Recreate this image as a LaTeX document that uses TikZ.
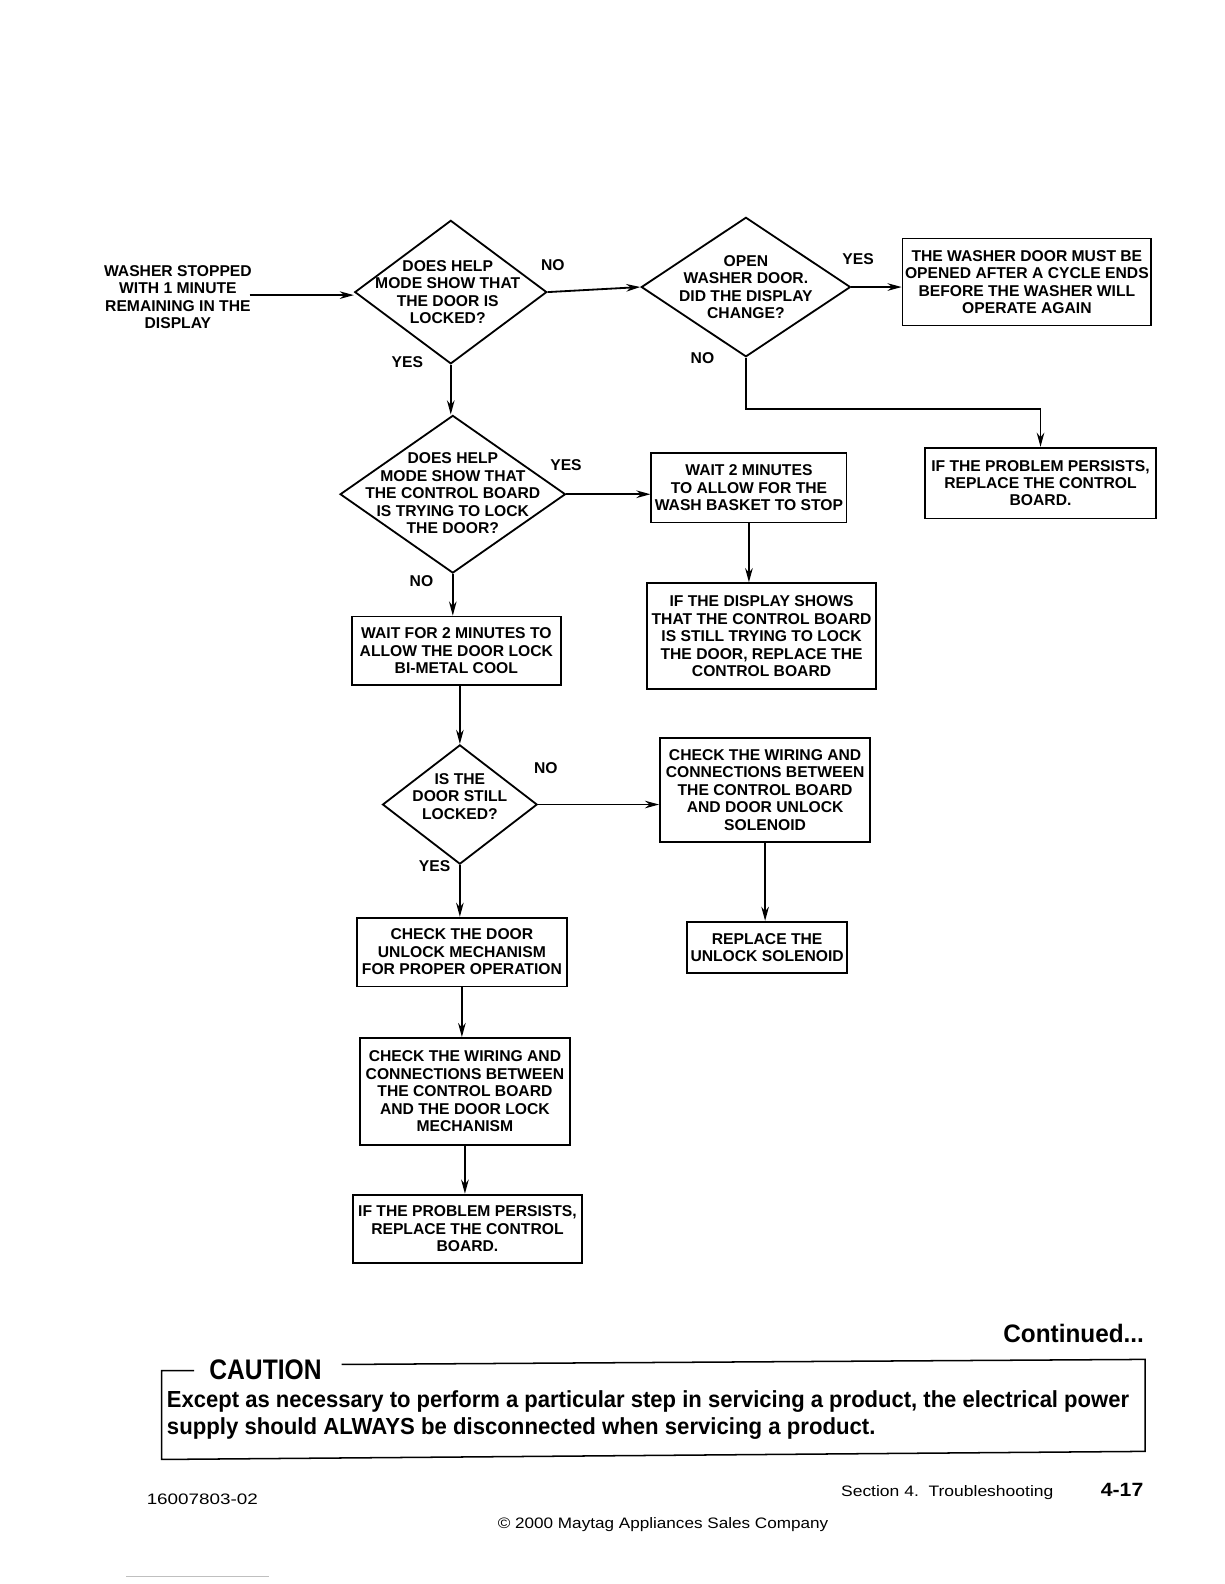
\documentclass[tikz,border=0pt]{standalone}
\usepackage{fontspec}
\setmainfont{Liberation Sans}
\usetikzlibrary{shapes.geometric,arrows.meta}
\begin{document}
\begin{tikzpicture}[x=1pt,y=-1pt,
  flow/.style={font=\bfseries\fontsize{15.5}{17.3}\selectfont, align=center, inner sep=0pt},
  box/.style={flow, draw, rectangle, line width=1.8pt},
  dia/.style={draw, diamond, line width=1.8pt, inner sep=0pt},
  arr/.style={line width=1.8pt, -{Stealth[length=14pt,width=7.5pt]}},
  lbl/.style={flow}]
\useasboundingbox (0,0) rectangle (1224,1584);
\fill[white] (0,0) rectangle (1224,1584);
\begin{scope}[transform canvas={scale=1.0107}]
% start text
\node[flow] (start) at (176,294) {WASHER STOPPED\\WITH 1 MINUTE\\REMAINING IN THE\\DISPLAY};
\coordinate (s1) at (247,292);

% diamonds
\node[dia, minimum width=190pt, minimum height=142pt] (d1) at (446,289) {};
\node[flow] (d1t) at (443,289) {DOES HELP\\MODE SHOW THAT\\THE DOOR IS\\LOCKED?};
\node[dia, minimum width=207pt, minimum height=138pt] (d2) at (738,284) {};
\node[flow] (d2t) at (738,284) {OPEN\\WASHER DOOR.\\DID THE DISPLAY\\CHANGE?};
\node[dia, minimum width=223pt, minimum height=156pt] (d3) at (448,489) {};
\node[flow] (d3t) at (448,488) {DOES HELP\\MODE SHOW THAT\\THE CONTROL BOARD\\IS TRYING TO LOCK\\THE DOOR?};
\node[dia, minimum width=153pt, minimum height=118pt] (d4) at (455,796) {};
\node[flow] (d4t) at (455,788) {IS THE\\DOOR STILL\\LOCKED?};

% boxes
\node[box, minimum width=246pt, minimum height=86pt] (tr1) at (1016,279) {THE WASHER DOOR MUST BE\\OPENED AFTER A CYCLE ENDS\\BEFORE THE WASHER WILL\\OPERATE AGAIN};
\node[box, minimum width=229pt, minimum height=70pt] (tr2) at (1029.5,478) {IF THE PROBLEM PERSISTS,\\REPLACE THE CONTROL\\BOARD.};
\node[box, minimum width=193pt, minimum height=69pt] (w2) at (741,482.5) {WAIT 2 MINUTES\\TO ALLOW FOR THE\\WASH BASKET TO STOP};
\node[box, minimum width=227pt, minimum height=105pt] (disp) at (753.5,629.5) {IF THE DISPLAY SHOWS\\THAT THE CONTROL BOARD\\IS STILL TRYING TO LOCK\\THE DOOR, REPLACE THE\\CONTROL BOARD};
\node[box, minimum width=207pt, minimum height=68pt] (wait) at (451.5,644) {WAIT FOR 2 MINUTES TO\\ALLOW THE DOOR LOCK\\BI-METAL COOL};
\node[box, minimum width=208pt, minimum height=103pt] (cw1) at (757,781.5) {CHECK THE WIRING AND\\CONNECTIONS BETWEEN\\THE CONTROL BOARD\\AND DOOR UNLOCK\\SOLENOID};
\node[box, minimum width=208pt, minimum height=68pt] (cdoor) at (457,942) {CHECK THE DOOR\\UNLOCK MECHANISM\\FOR PROPER OPERATION};
\node[box, minimum width=158pt, minimum height=51pt] (repl) at (759,937.5) {REPLACE THE\\UNLOCK SOLENOID};
\node[box, minimum width=208pt, minimum height=106pt] (cw2) at (460,1080) {CHECK THE WIRING AND\\CONNECTIONS BETWEEN\\THE CONTROL BOARD\\AND THE DOOR LOCK\\MECHANISM};
\node[box, minimum width=227pt, minimum height=68pt] (prob2) at (462.5,1216) {IF THE PROBLEM PERSISTS,\\REPLACE THE CONTROL\\BOARD.};

% labels
\node[lbl] (l1) at (547,262) {NO};
\node[lbl] (l2) at (849,256) {YES};
\node[lbl] (l3) at (695,354) {NO};
\node[lbl] (l4) at (403,358) {YES};
\node[lbl] (l5) at (560,460) {YES};
\node[lbl] (l6) at (417,575) {NO};
\node[lbl] (l7) at (540,760) {NO};
\node[lbl] (l8) at (430,857) {YES};

% connectors
\draw[arr] (s1) -- (s1 -| d1.west);
\draw[arr] (d1.east) -- (d2.west);
\draw[arr] (d2.east) -- (d2.east -| tr1.west);
\coordinate (bend) at (1029.5,405);
\draw[arr] (d2.south) |- (bend) -- (tr2.north);
\draw[arr] (d1.south) -- (d1.south |- d3.north);
\draw[arr] (d3.east) -- (d3.east -| w2.west);
\draw[arr] (w2.south) -- (w2.south |- disp.north);
\draw[arr] (d3.south) -- (d3.south |- wait.north);
\draw[arr] (d4.north |- wait.south) -- (d4.north);
\draw[arr] (d4.east) -- (d4.east -| cw1.west);
\draw[arr] (cw1.south) -- (cw1.south |- repl.north);
\draw[arr] (d4.south) -- (d4.south |- cdoor.north);
\draw[arr] (cdoor.south) -- (cdoor.south |- cw2.north);
\draw[arr] (cw2.south) -- (cw2.south |- prob2.north);

% continued and caution
\node[anchor=base east, inner sep=0pt] (cont) at (1132,1328) {\resizebox{139pt}{\height}{\bfseries\fontsize{25}{28}\selectfont Continued...}};
\node[anchor=base west, inner sep=0pt] (caut) at (207,1365) {\resizebox{111pt}{\height}{\bfseries\fontsize{28}{30}\selectfont CAUTION}};
\draw[line width=1.5pt] (192,1356) -- (160,1356) -- (160,1444) -- (1133,1436) -- (1133,1345) -- (338,1350);
\node[anchor=base west, inner sep=0pt] (cau1) at (165,1393) {\resizebox{952pt}{\height}{\bfseries\fontsize{23}{26}\selectfont Except as necessary to perform a particular step in servicing a product, the electrical power}};
\node[anchor=base west, inner sep=0pt] (cau2) at (165,1419) {\resizebox{701pt}{\height}{\bfseries\fontsize{23}{26}\selectfont supply should ALWAYS be disconnected when servicing a product.}};

% footer
\node[anchor=base west, inner sep=0pt] (f1) at (145,1489) {\resizebox{110pt}{\height}{\fontsize{15}{17}\selectfont 16007803-02}};
\node[anchor=base west, inner sep=0pt] (f2) at (832,1481) {\resizebox{210pt}{\height}{\fontsize{15}{17}\selectfont Section 4.\ \ Troubleshooting}};
\node[anchor=base west, inner sep=0pt] (f3) at (1089,1481) {\resizebox{42pt}{\height}{\bfseries\fontsize{19}{21}\selectfont 4-17}};
\node[anchor=base, inner sep=0pt] (f4) at (656,1512) {\resizebox{327pt}{\height}{\fontsize{15}{17}\selectfont © 2000 Maytag Appliances Sales Company}};
\draw[gray!50, line width=0.8pt] (125,1560) -- (266,1560);
\end{scope}
\end{tikzpicture}
\end{document}
